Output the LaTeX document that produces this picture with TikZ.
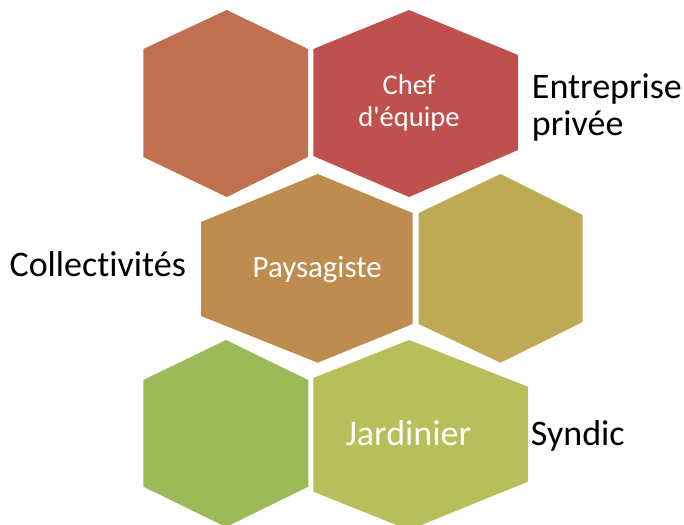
\documentclass[tikz,border=0pt]{standalone}
\usepackage{fontspec}
\newfontfamily\carl{Carlito}[Ligatures={NoCommon,NoRare,NoContextual}]
\definecolor{hexA}{RGB}{192,112,80}
\definecolor{hexB}{RGB}{192,80,77}
\definecolor{hexC}{RGB}{191,140,80}
\definecolor{hexD}{RGB}{190,169,84}
\definecolor{hexE}{RGB}{155,187,89}
\definecolor{hexF}{RGB}{184,190,90}
\tikzset{
  inlabel/.style={text=white, inner sep=0pt, anchor=base},
  outlabel/.style={text=black, inner sep=0pt, anchor=base west},
  big/.style={font=\carl\fontsize{27}{28}\selectfont},
}
\begin{document}
\begin{tikzpicture}[x=0.75pt,y=-0.75pt]
\useasboundingbox (0,0) rectangle (684,524);
\begin{scope}
\clip (0,0) rectangle (684,524);
\fill[hexA] (226.7,10) -- (308,49) -- (308,157) -- (226.7,197) -- (143.3,157) -- (143.3,49) -- cycle;
\fill[hexB] (409,10) -- (518,55) -- (518,150) -- (409,197) -- (313.3,156) -- (313.3,49) -- cycle;
\fill[hexC] (317.7,174) -- (412.7,213) -- (412.7,324) -- (317.7,362.7) -- (201,316) -- (201,222) -- cycle;
\fill[hexD] (500.5,174) -- (582.7,215) -- (582.7,322) -- (500.5,362.7) -- (418.7,324) -- (418.7,213) -- cycle;
\fill[hexE] (226,340) -- (308.3,380) -- (308.3,486.7) -- (226,527) -- (143.3,486.7) -- (143.3,380) -- cycle;
\fill[hexF] (409,340) -- (528,386.7) -- (528,481.7) -- (409,530) -- (313.3,491.7) -- (313.3,378) -- cycle;
\end{scope}
\node[inlabel, font=\carl\fontsize{21.4}{22}\selectfont] (chef) at (409,95) {Chef};
\node[inlabel, font=\carl\fontsize{21.4}{22}\selectfont] (equipe) at (409,126.7) {d'équipe};
\node[inlabel, font=\carl\fontsize{23.2}{24}\selectfont] (pays) at (317.2,277.3) {Paysagiste};
\node[inlabel, big] (jard) at (408.3,445) {Jardinier};
\node[outlabel, big] (coll) at (9.3,276.7) {Collectivités};
\node[outlabel, big] (entr) at (531.7,98.3) {Entreprise};
\node[outlabel, big] (priv) at (531.7,136) {privée};
\node[outlabel, big] (synd) at (530.7,445) {Syndic};
\end{tikzpicture}
\end{document}
